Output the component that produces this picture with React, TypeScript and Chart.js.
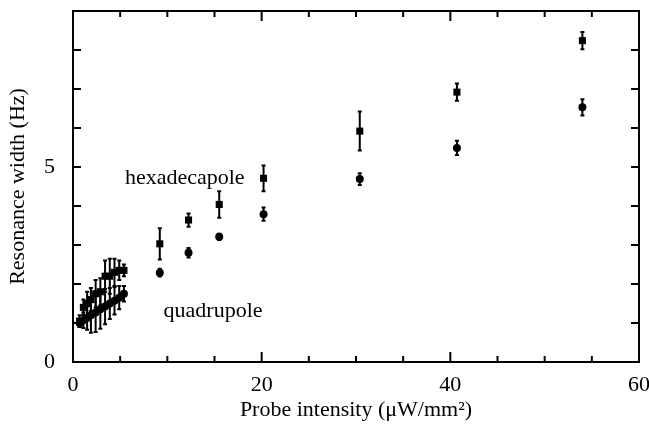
import React, { useEffect, useRef } from "react";
import { Chart, registerables } from "chart.js";

Chart.register(...registerables);

const FONT = '"Liberation Serif", "Times New Roman", serif';

// Probe intensity (µW/mm²)
const hexX = [0.7, 1.1, 1.5, 1.9, 2.4, 2.9, 3.4, 3.9, 4.4, 4.9, 5.4, 9.2, 12.25, 15.5, 20.2, 30.4, 40.7, 54.0];
const hexY = [1.05, 1.4, 1.5, 1.6, 1.75, 1.8, 2.2, 2.2, 2.3, 2.35, 2.35, 3.03, 3.64, 4.04, 4.71, 5.92, 6.92, 8.24];
const hexErr = [0.15, 0.2, 0.3, 0.3, 0.35, 0.35, 0.4, 0.45, 0.35, 0.25, 0.15, 0.4, 0.17, 0.34, 0.33, 0.5, 0.22, 0.22];

const quadX = [0.7, 1.1, 1.5, 1.9, 2.4, 2.9, 3.4, 3.9, 4.4, 4.9, 5.4, 9.2, 12.25, 15.5, 20.2, 30.4, 40.7, 54.0];
const quadY = [1.0, 1.07, 1.13, 1.2, 1.27, 1.35, 1.42, 1.5, 1.57, 1.65, 1.75, 2.29, 2.8, 3.21, 3.79, 4.69, 5.49, 6.53];
const quadErr = [0.1, 0.2, 0.3, 0.45, 0.5, 0.5, 0.45, 0.4, 0.35, 0.3, 0.2, 0.1, 0.12, 0.08, 0.17, 0.15, 0.18, 0.21];

const xTickLabels = [0, 20, 40, 60];
const yTickLabels = [0, 5];
const xTitle = "Probe intensity (μW/mm²)";
const yTitle = "Resonance width (Hz)";
const labelTexts = ["hexadecapole", "quadrupole"];
const labelX = [5.5, 9.6];
const labelY = [4.56, 1.15];

const errs = [hexErr, quadErr];

const customPlugin = {
  id: "custom",
  beforeDatasetsDraw(chart: any) {
    const { ctx, scales } = chart;
    const xs = scales.x;
    const ys = scales.y;
    ctx.save();
    ctx.strokeStyle = "#000";
    ctx.lineWidth = 2;
    chart.data.datasets.forEach((ds: any, i: number) => {
      ds.data.forEach((p: any, j: number) => {
        const e = errs[i][j];
        const x = xs.getPixelForValue(p.x);
        const y1 = ys.getPixelForValue(p.y - e);
        const y2 = ys.getPixelForValue(p.y + e);
        ctx.beginPath();
        ctx.moveTo(x, y1);
        ctx.lineTo(x, y2);
        ctx.moveTo(x - 2, y1);
        ctx.lineTo(x + 2, y1);
        ctx.moveTo(x - 2, y2);
        ctx.lineTo(x + 2, y2);
        ctx.stroke();
      });
    });
    ctx.restore();
  },
  afterDraw(chart: any) {
    const { ctx, chartArea: a, scales } = chart;
    const xs = scales.x;
    const ys = scales.y;
    ctx.save();
    ctx.strokeStyle = "#000";
    ctx.lineWidth = 2;
    ctx.strokeRect(a.left, a.top, a.right - a.left, a.bottom - a.top);
    ctx.beginPath();
    for (let v = 0; v <= 60; v += 5) {
      const x = xs.getPixelForValue(v);
      const len = v % 20 === 0 ? 10 : 6;
      ctx.moveTo(x, a.bottom);
      ctx.lineTo(x, a.bottom - len);
      ctx.moveTo(x, a.top);
      ctx.lineTo(x, a.top + len);
    }
    for (let v = 0; v <= 9; v += 1) {
      const y = ys.getPixelForValue(v);
      ctx.moveTo(a.left, y);
      ctx.lineTo(a.left + 8, y);
      ctx.moveTo(a.right, y);
      ctx.lineTo(a.right - 8, y);
    }
    ctx.stroke();
    ctx.fillStyle = "#000";
    ctx.font = `22px ${FONT}`;
    ctx.textAlign = "left";
    ctx.textBaseline = "alphabetic";
    labelTexts.forEach((t, i) => {
      ctx.fillText(t, xs.getPixelForValue(labelX[i]), ys.getPixelForValue(labelY[i]));
    });
    ctx.restore();
  },
};

export default function App() {
  const ref = useRef<HTMLCanvasElement>(null);
  useEffect(() => {
    if (!ref.current) return;
    const chart = new Chart(ref.current, {
      type: "scatter",
      data: {
        datasets: [
          {
            label: "hexadecapole",
            data: hexX.map((x, i) => ({ x, y: hexY[i] })),
            pointStyle: "rect",
            pointRadius: 5,
            backgroundColor: "#000",
            borderColor: "#000",
            borderWidth: 0,
          },
          {
            label: "quadrupole",
            data: quadX.map((x, i) => ({ x, y: quadY[i] })),
            pointStyle: "circle",
            pointRadius: 4,
            backgroundColor: "#000",
            borderColor: "#000",
            borderWidth: 0,
          },
        ],
      },
      options: {
        animation: false,
        responsive: false,
        events: [],
        layout: { padding: { top: 11, right: 10, left: 0, bottom: 0 } },
        plugins: { legend: { display: false }, tooltip: { enabled: false } },
        scales: {
          x: {
            type: "linear",
            min: 0,
            max: 60,
            grid: { display: false, drawTicks: false },
            border: { display: false },
            ticks: {
              stepSize: 5,
              autoSkip: false,
              maxRotation: 0,
              padding: 10,
              color: "#000",
              font: { family: FONT, size: 22 },
              callback: (v: any) => (xTickLabels.includes(Number(v)) ? String(v) : ""),
            },
            title: {
              display: true,
              text: xTitle,
              color: "#000",
              font: { family: FONT, size: 22 },
              padding: { top: 0, bottom: 9 },
            },
            afterFit: (s: any) => {
              s.height = 70;
              s.paddingLeft = 0;
              s.paddingRight = 0;
            },
          },
          y: {
            type: "linear",
            min: 0,
            max: 9,
            grid: { display: false, drawTicks: false },
            border: { display: false },
            ticks: {
              stepSize: 1,
              autoSkip: false,
              padding: 18,
              color: "#000",
              font: { family: FONT, size: 22 },
              callback: (v: any) => (yTickLabels.includes(Number(v)) ? String(v) : ""),
            },
            title: {
              display: true,
              text: yTitle,
              color: "#000",
              font: { family: FONT, size: 22 },
              padding: { top: 5, bottom: 0 },
            },
            afterFit: (s: any) => {
              s.width = 73;
              s.paddingTop = 0;
              s.paddingBottom = 0;
            },
          },
        },
      },
      plugins: [customPlugin],
    });
    return () => chart.destroy();
  }, []);
  return (
    <div style={{ position: "fixed", left: 0, top: 0, width: 649, height: 432, background: "#fff" }}>
      <canvas ref={ref} width={649} height={432} />
    </div>
  );
}
